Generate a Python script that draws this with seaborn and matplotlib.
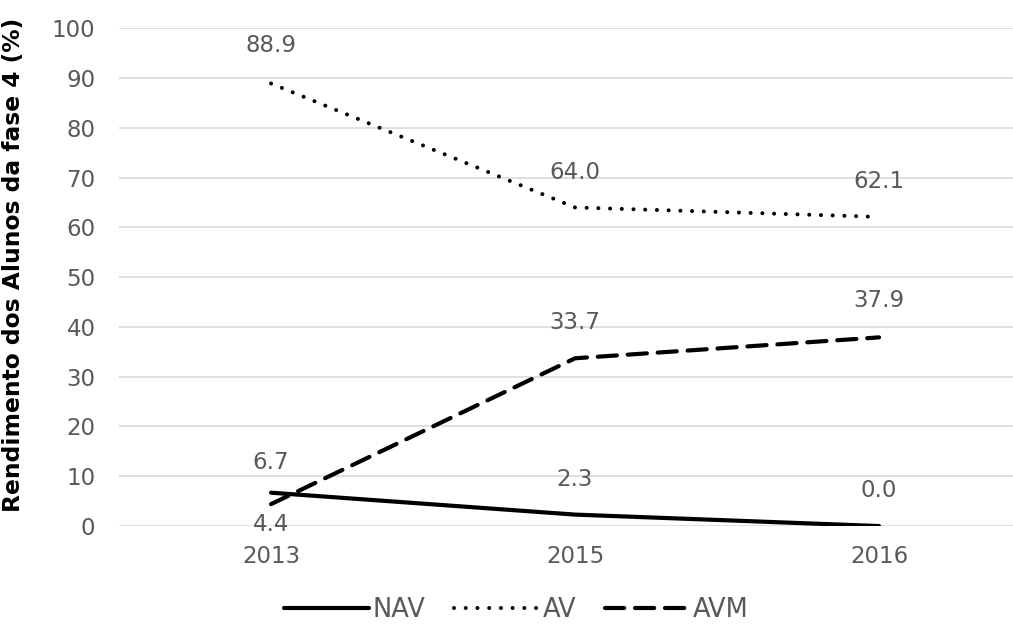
import matplotlib
matplotlib.use("Agg")
import matplotlib.pyplot as plt
import seaborn as sns
import pandas as pd

# Data
years = ["2013", "2015", "2016"]
nav = [6.7, 2.3, 0.0]
av = [88.9, 64.0, 62.1]
avm = [4.4, 33.7, 37.9]
series_names = ["NAV", "AV", "AVM"]
y_ticks = list(range(0, 101, 10))

sns.set_theme(style="white")
plt.rcParams["font.family"] = ["DejaVu Sans"]
plt.rcParams["lines.dash_capstyle"] = "round"
plt.rcParams["lines.solid_capstyle"] = "round"

df = pd.DataFrame({
    "Ano": years * 3,
    "Valor": nav + av + avm,
    "Serie": [s for s in series_names for _ in years],
})

fig = plt.figure(figsize=(10.13, 6.27), dpi=100)
ax = fig.add_axes([0.1175, 0.161, 0.9003, 0.794])

gray = "#595959"
grid = "#d9d9d9"

ax.set_axisbelow(True)
ax.yaxis.grid(True, color=grid, linewidth=1.2)
ax.xaxis.grid(False)

dashes = {"NAV": "", "AV": (0.01, 2.9), "AVM": (4.6, 2.6)}
widths = {"NAV": 3.0, "AV": 2.9, "AVM": 3.0}

for name in series_names:
    sub = df[df["Serie"] == name]
    sns.lineplot(data=sub, x="Ano", y="Valor", ax=ax, color="black",
                 linewidth=widths[name], label=name, sort=False)

# Dash patterns for the three series
for line, name in zip(ax.get_lines(), series_names):
    if dashes[name]:
        line.set_dashes(dashes[name])

# Value labels
label_fs = 16.5
offsets = {"NAV": [30, 35, 36], "AV": [38, 35, 35], "AVM": [-20, 36, 37]}
series_vals = {"NAV": nav, "AV": av, "AVM": avm}
for name in series_names:
    for i, v in enumerate(series_vals[name]):
        ax.annotate(f"{v:.1f}", xy=(i, v), xytext=(0, offsets[name][i]),
                    textcoords="offset pixels", ha="center", va="center",
                    fontsize=label_fs, color=gray)

ax.set_xlim(-0.5, 2.5)
ax.set_ylim(0, 100)
ax.set_yticks(y_ticks)
ax.tick_params(axis="both", length=0, labelsize=16.5, labelcolor=gray)
ax.tick_params(axis="y", pad=17)
ax.tick_params(axis="x", pad=14)
for sp in ax.spines.values():
    sp.set_visible(False)
ax.set_xlabel("")
ax.set_ylabel("Rendimento dos Alunos da fase 4 (%)", fontsize=16.8,
              fontweight="bold", color="black")
ax.yaxis.set_label_coords(-0.103, 0.524)

handles = ax.get_lines()[:3]
leg = fig.legend(handles, series_names, loc="center", ncol=3,
                 bbox_to_anchor=(0.51, 0.027), frameon=False,
                 handlelength=3.3, handletextpad=0.15, columnspacing=1.1,
                 fontsize=18.5)
for t in leg.get_texts():
    t.set_color(gray)
if ax.get_legend() is not None:
    ax.get_legend().remove()

fig.savefig("out.png", dpi=100)
